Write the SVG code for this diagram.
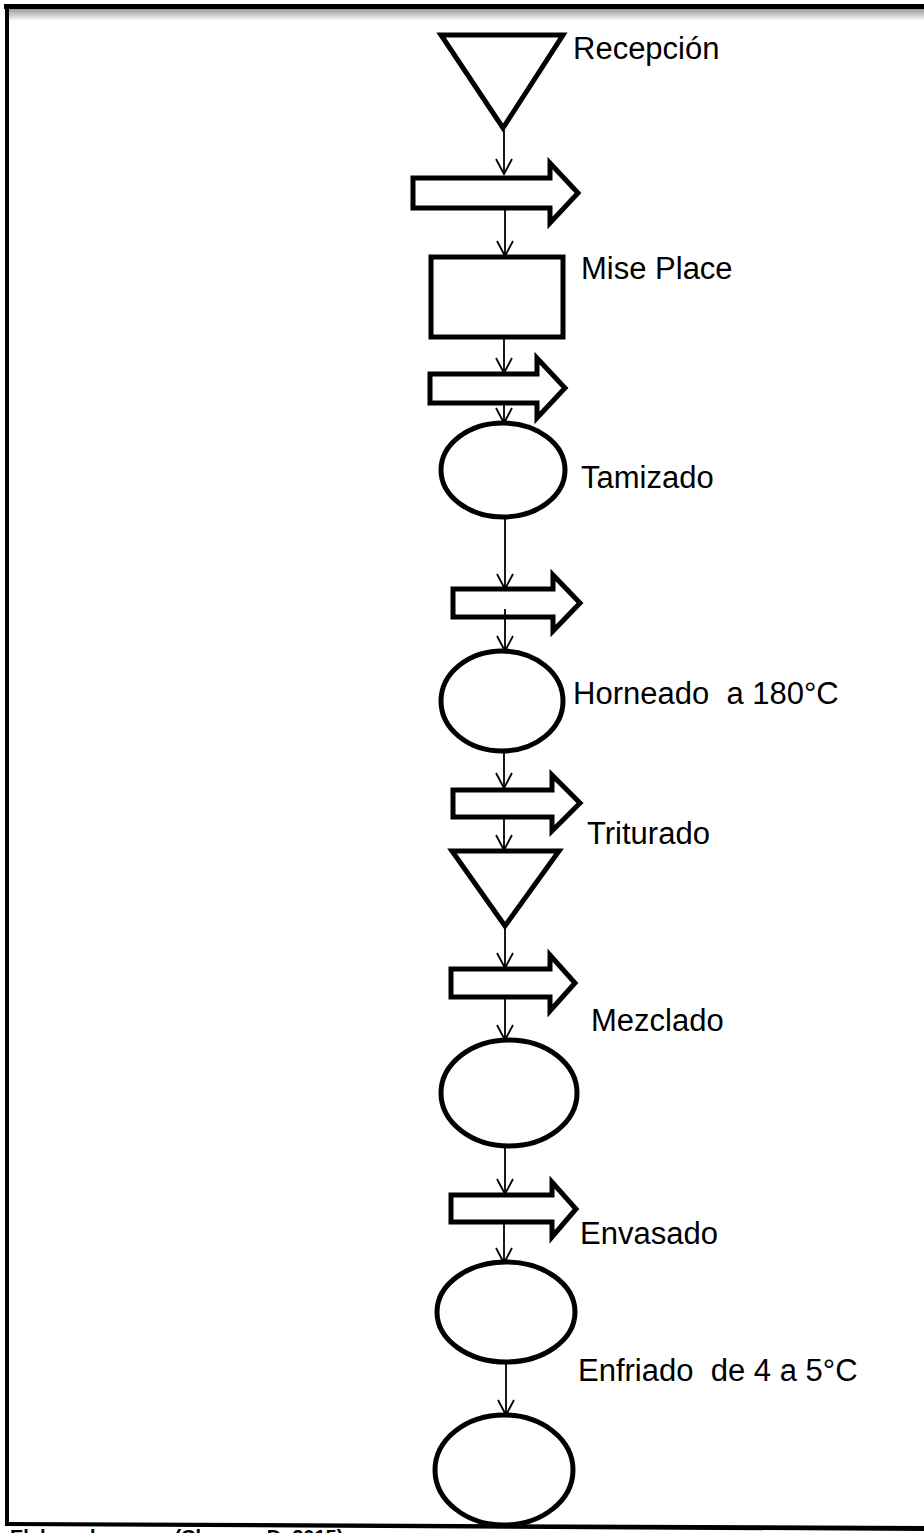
<svg xmlns="http://www.w3.org/2000/svg" width="924" height="1533" viewBox="0 0 924 1533">
  <defs>
    <marker id="open" markerUnits="userSpaceOnUse" markerWidth="20" markerHeight="20" viewBox="0 0 20 20" refX="16" refY="10" orient="auto">
      <path d="M1,2 L16,10 L1,18" fill="none" stroke="#000" stroke-width="1.8"/>
    </marker>
    <linearGradient id="topShade" x1="0" y1="0" x2="0" y2="1">
      <stop offset="0" stop-color="#9a9a9a"/>
      <stop offset="1" stop-color="#ffffff"/>
    </linearGradient>
  </defs>
  <style>
    .shape { fill: #fff; stroke: #000; stroke-width: 5; stroke-linejoin: miter; }
    .flow { fill: #fff; stroke: #000; stroke-width: 5; stroke-linejoin: miter; }
    .conn { fill: none; stroke: #000; stroke-width: 1.8; marker-end: url(#open); }
    .plain { fill: none; stroke: #000; stroke-width: 1.8; }
    .label { font-family: "Liberation Sans", Arial, sans-serif; font-size: 31px; fill: #000; }
    .caption { font-family: "Liberation Sans", Arial, sans-serif; font-size: 20px; font-weight: bold; fill: #000; }
  </style>

  <rect width="924" height="1533" fill="#fff"/>

  <!-- page frame -->
  <g id="frame">
    <rect x="6" y="9" width="918" height="12" fill="url(#topShade)"/>
    <line x1="4" y1="6.5" x2="924" y2="6.5" stroke="#000" stroke-width="5"/>
    <line x1="7" y1="5" x2="7" y2="1526" stroke="#000" stroke-width="4"/>
    <path d="M7,1522 L924,1526 L924,1531 L7,1526 Z" fill="#000"/>
  </g>

  <!-- connectors -->
  <g id="connectors">
    <line class="conn" x1="504" y1="130" x2="504" y2="174"/>
    <line class="conn" x1="505" y1="210" x2="505" y2="256"/>
    <line class="conn" x1="504" y1="339" x2="504" y2="373"/>
    <line class="conn" x1="504" y1="405" x2="504" y2="423"/>
    <line class="conn" x1="505" y1="518" x2="505" y2="589"/>
    <line class="conn" x1="505" y1="609" x2="505" y2="651"/>
    <line class="conn" x1="504" y1="752" x2="504" y2="788"/>
    <line class="conn" x1="504" y1="819" x2="504" y2="850"/>
    <line class="conn" x1="505" y1="927" x2="505" y2="968"/>
    <line class="conn" x1="505" y1="999" x2="505" y2="1040"/>
    <line class="conn" x1="505" y1="1146" x2="505" y2="1194"/>
    <line class="conn" x1="504" y1="1224" x2="504" y2="1263"/>
    <line class="conn" x1="506" y1="1362" x2="506" y2="1415"/>
  </g>

  <!-- Recepción -->
  <g id="recepcion">
    <polygon class="shape" points="441,35 563,35 503,128"/>
    <text class="label" x="573" y="59">Recepción</text>
  </g>

  <g id="transporte1">
    <polygon class="flow" points="413,178 550,178 550,163 578,193 550,223 550,208 413,208"/>
  </g>

  <!-- Mise Place -->
  <g id="mise-place">
    <rect class="shape" x="431" y="257" width="132" height="80"/>
    <text class="label" x="581" y="279">Mise Place</text>
  </g>

  <g id="transporte2">
    <polygon class="flow" points="430,374 537,374 537,358 565,388 537,418 537,403 430,403"/>
  </g>

  <!-- Tamizado -->
  <g id="tamizado">
    <ellipse class="shape" cx="503" cy="470" rx="62" ry="47"/>
    <text class="label" x="581" y="488">Tamizado</text>
  </g>

  <g id="transporte3">
    <polygon class="flow" points="453,589 553,589 553,575 580,603 553,631 553,617 453,617"/>
    <line class="plain" x1="505" y1="609" x2="505" y2="617"/>
  </g>

  <!-- Horneado -->
  <g id="horneado">
    <ellipse class="shape" cx="502" cy="701" rx="61" ry="50"/>
    <text class="label" x="573" y="704" xml:space="preserve">Horneado  a 180°C</text>
  </g>

  <g id="transporte4">
    <polygon class="flow" points="453,790 552,790 552,775 580,803 552,831 552,817 453,817"/>
  </g>

  <!-- Triturado -->
  <g id="triturado">
    <polygon class="shape" points="452,851 559,851 505,926"/>
    <text class="label" x="587" y="844">Triturado</text>
  </g>

  <g id="transporte5">
    <polygon class="flow" points="451,969 550,969 550,955 575,983 550,1011 550,997 451,997"/>
  </g>

  <!-- Mezclado -->
  <g id="mezclado">
    <ellipse class="shape" cx="509" cy="1093" rx="68" ry="53"/>
    <text class="label" x="591" y="1031">Mezclado</text>
  </g>

  <g id="transporte6">
    <polygon class="flow" points="451,1195 552,1195 552,1182 576,1209 552,1237 552,1222 451,1222"/>
  </g>

  <!-- Envasado -->
  <g id="envasado">
    <ellipse class="shape" cx="506" cy="1312" rx="69" ry="50"/>
    <text class="label" x="580" y="1244">Envasado</text>
  </g>

  <!-- Enfriado -->
  <g id="enfriado">
    <ellipse class="shape" cx="504" cy="1470" rx="69" ry="55"/>
    <text class="label" x="578" y="1381" xml:space="preserve">Enfriado  de 4 a 5°C</text>
  </g>

  <text class="caption" x="10" y="1544" xml:space="preserve">Elaborado por:    (Chango, D. 2015)</text>
</svg>
